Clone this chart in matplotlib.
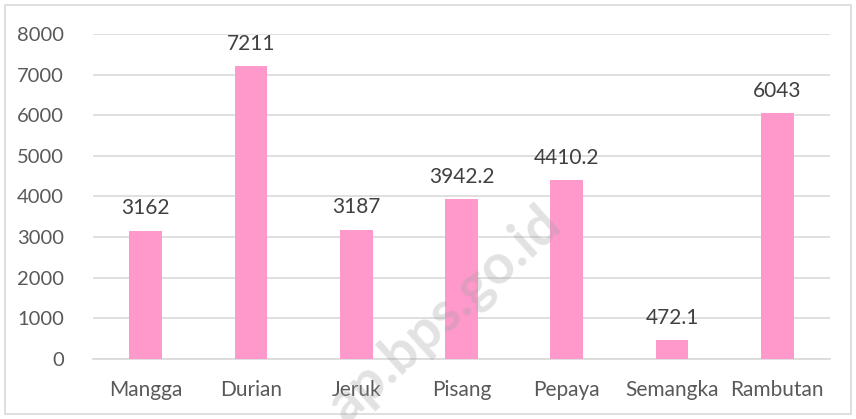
import matplotlib.pyplot as plt
from matplotlib.patches import Rectangle

# datos
buah = ['Mangga', 'Durian', 'Jeruk', 'Pisang', 'Pepaya', 'Semangka', 'Rambutan']
produksi = [3162, 7211, 3187, 3942.2, 4410.2, 472.1, 6043]
etiquetas = ['3162', '7211', '3187', '3942.2', '4410.2', '472.1', '6043']
yticks = [0, 1000, 2000, 3000, 4000, 5000, 6000, 7000, 8000]

plt.rcParams['font.family'] = ['Lato', 'DejaVu Sans']

fig = plt.figure(figsize=(8.56, 4.19), dpi=100)
ax = fig.add_axes([0.1086, 0.1432, 0.861, 0.7757])

x = range(len(buah))
ax.bar(x, produksi, width=0.31, color='#ff99cc', zorder=3)
for i, v in enumerate(produksi):
    ax.text(i, v + 300, etiquetas[i], ha='center', va='bottom',
            fontsize=15, color='#404040')

ax.set_xlim(-0.5, len(buah) - 0.5)
ax.set_ylim(0, 8000)
ax.set_yticks(yticks)
ax.set_yticklabels([str(t) for t in yticks], fontsize=14.5, color='#595959')
ax.set_xticks(list(x))
ax.set_xticklabels(buah, fontsize=15, color='#595959')
ax.tick_params(axis='x', length=0, pad=15)
ax.tick_params(axis='y', length=0, pad=21)
ax.grid(axis='y', color='#d9d9d9', linewidth=1.2, zorder=0)
for s in ['top', 'right', 'left']:
    ax.spines[s].set_visible(False)
ax.spines['bottom'].set_color('#d9d9d9')
ax.spines['bottom'].set_linewidth(1.2)

# borde del grafico
fig.patches.append(Rectangle((0.006, 0.012), 0.988, 0.976, transform=fig.transFigure,
                             fill=False, edgecolor='#d9d9d9', linewidth=1.2))

# marca de agua
fig.text(0.52, 0.25, 'ap.bps.go.id', rotation=42, fontsize=40, fontweight='bold',
         color='#a0a0a0', alpha=0.3, ha='center', va='center', zorder=10)

plt.savefig('out.png')
